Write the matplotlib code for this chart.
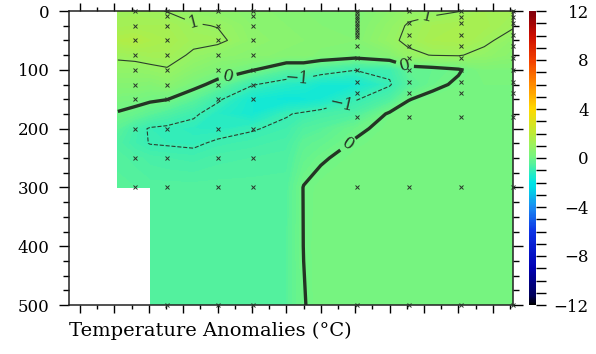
import numpy as np
import matplotlib
matplotlib.use('Agg')
import matplotlib.pyplot as plt
import matplotlib.colors as mcolors
from matplotlib.cm import ScalarMappable
from matplotlib.ticker import MultipleLocator

nan = np.nan

# grid columns (position along section, tick units) and depths (m)
grid_x = [2.2, 3.2, 4.07, 5.06, 6.6, 8.0, 10.0, 12.0, 13.0, 14.0, 16.0, 18.0, 19.1, 20.5, 22.0, 23.5, 25.17]
grid_depth = [0, 25, 50, 75, 100, 125, 150, 175, 200, 225, 250, 300, 400, 500]

# temperature anomaly (degC), one row per depth
anom_000 = [1.15, 1.15, 1.1, 0.98, 0.8, 0.7, 0.6, 0.5, 0.45, 0.4, 0.35, 0.65, 0.85, 0.85, 0.98, 1.3, 1.2]
anom_025 = [1.25, 1.3, 1.3, 1.3, 1.05, 0.98, 0.65, 0.55, 0.5, 0.45, 0.4, 0.8, 1.05, 1.3, 1.4, 1.35, 1.08]
anom_050 = [1.6, 1.7, 1.5, 1.4, 1.15, 1.12, 0.7, 0.6, 0.55, 0.5, 0.45, 0.9, 1.1, 1.4, 1.45, 1.15, 0.7]
anom_075 = [1.1, 1.15, 1.25, 1.25, 0.9, 0.7, 0.6, 0.5, 0.5, 0.4, 0.25, 0.5, 0.9, 1.02, 1.05, 0.8, 0.6]
anom_100 = [0.8, 0.8, 0.85, 0.95, 0.6, 0.35, 0.05, -0.45, -0.45, -0.7, -0.98, -0.9, -0.3, -0.2, -0.05, 0.3, 0.3]
anom_125 = [0.5, 0.5, 0.45, 0.6, 0.2, -0.2, -0.95, -1.3, -1.4, -1.6, -1.6, -1.05, -0.5, -0.12, 0.08, 0.2, 0.2]
anom_150 = [0.25, 0.2, 0.1, 0.02, -0.4, -0.9, -1.6, -1.8, -1.75, -1.6, -1.05, -0.6, -0.02, 0.15, 0.2, 0.2, 0.2]
anom_175 = [-0.05, -0.2, -0.4, -0.6, -0.9, -1.3, -1.6, -1.05, -0.9, -0.75, -0.6, 0.08, 0.2, 0.2, 0.2, 0.2, 0.2]
anom_200 = [-0.4, -0.8, -1.05, -1.1, -1.2, -1.25, -1.05, -0.85, -0.55, -0.45, -0.1, 0.15, 0.2, 0.2, 0.2, 0.2, 0.2]
anom_225 = [-0.6, -0.85, -1.02, -1.05, -1.1, -0.9, -0.8, -0.7, -0.35, -0.25, 0.05, 0.2, 0.2, 0.2, 0.2, 0.2, 0.2]
anom_250 = [-0.5, -0.6, -0.7, -0.75, -0.8, -0.7, -0.65, -0.6, -0.25, -0.05, 0.15, 0.2, 0.2, 0.2, 0.2, 0.2, 0.2]
anom_300 = [-0.4, -0.45, -0.5, -0.5, -0.5, -0.5, -0.5, -0.5, 0.02, 0.15, 0.2, 0.2, 0.2, 0.2, 0.2, 0.2, 0.2]
anom_400 = [nan, nan, -0.45, -0.45, -0.45, -0.45, -0.45, -0.45, 0.01, 0.2, 0.2, 0.2, 0.2, 0.2, 0.2, 0.2, 0.2]
anom_500 = [nan, nan, -0.45, -0.45, -0.45, -0.45, -0.45, -0.45, -0.03, 0.2, 0.2, 0.2, 0.2, 0.2, 0.2, 0.2, 0.2]

# CTD stations and their sample depths
station_x = [3.2, 5.06, 8.0, 10.06, 16.1, 19.13, 22.15, 25.17]
sample_depths = [
    [0, 25, 50, 75, 100, 125, 150, 200, 250, 300],
    [0, 8, 25, 50, 75, 100, 125, 150, 200, 250, 300, 500],
    [0, 25, 50, 75, 100, 125, 150, 200, 250, 300, 500],
    [0, 8, 25, 50, 75, 100, 125, 150, 200, 250, 300, 500],
    [0, 4, 8, 12, 16, 20, 24, 28, 32, 36, 40, 44, 60, 80, 100, 120, 140, 180, 300, 500],
    [0, 20, 40, 60, 80, 100, 120, 140, 180, 300, 500],
    [0, 10, 20, 40, 60, 80, 100, 120, 140, 180, 300, 500],
    [0, 10, 20, 40, 60, 80, 100, 120, 140, 180, 300, 500],
]

cbar_ticks = [12, 8, 4, 0, -4, -8, -12]

# contour label spots (x, depth)
label_spots = [(6.6, 20), (20.2, 12), (8.6, 114), (18.9, 90), (15.6, 228), (12.6, 114), (15.3, 173)]

# colour table, rainbow running into black at the cold end
cmap = mcolors.LinearSegmentedColormap.from_list('anom', [
    (0.0, (0, 0, 0)),
    (0.7 / 24, (0.0, 0.0, 0.35)),
    (3 / 24, (0.0, 0.0, 0.7)),
    (6 / 24, (0.05, 0.2, 0.9)),
    (8 / 24, (0.1, 0.55, 0.95)),
    (9.5 / 24, (0.0, 0.85, 0.9)),
    (10 / 24, (0.0, 0.9, 0.9)),
    (12 / 24, (0.44, 0.96, 0.52)),
    (13 / 24, (0.6, 0.95, 0.38)),
    (14 / 24, (0.74, 0.92, 0.22)),
    (16 / 24, (1.0, 0.85, 0.0)),
    (18 / 24, (1.0, 0.55, 0.0)),
    (20 / 24, (0.95, 0.25, 0.0)),
    (22 / 24, (0.8, 0.05, 0.0)),
    (1.0, (0.5, 0.0, 0.05)),
])
norm = mcolors.Normalize(vmin=-12, vmax=12)

Z = np.ma.masked_invalid(np.array([anom_000, anom_025, anom_050, anom_075, anom_100, anom_125, anom_150,
                                   anom_175, anom_200, anom_225, anom_250, anom_300, anom_400, anom_500]))
X, Y = np.meshgrid(grid_x, grid_depth)

plt.rcParams['font.family'] = 'DejaVu Serif'

fig = plt.figure(figsize=(5.96, 3.54), dpi=100)
ax = fig.add_axes([69 / 596, 49 / 354, 444 / 596, 294 / 354])
cax = fig.add_axes([529 / 596, 49 / 354, 7 / 596, 294 / 354])

ax.contourf(X, Y, Z, levels=np.linspace(-12, 12, 481), cmap=cmap, norm=norm,
            antialiased=False, corner_mask=False)

line_col = '#2c3f2c'
cs = ax.contour(X, Y, Z, levels=[-1, 0, 1], colors=[line_col, '#243424', line_col],
                linewidths=[0.8, 2.4, 0.8], linestyles=['dashed', 'solid', 'solid'], corner_mask=False)
ax.clabel(cs, fmt={-1: '\u22121', 0: '0', 1: '1'}, fontsize=12, inline=True, manual=label_spots)

for sx, deps in zip(station_x, sample_depths):
    ax.plot([sx] * len(deps), deps, linestyle='none', marker='x', markersize=2.6,
            markeredgewidth=0.7, color='#2a352a', clip_on=False, zorder=5)

ax.set_xlim(-0.64, 25.17)
ax.set_ylim(500, 0)
ax.xaxis.set_major_locator(MultipleLocator(2))
ax.xaxis.set_minor_locator(MultipleLocator(1))
ax.yaxis.set_major_locator(MultipleLocator(100))
ax.yaxis.set_minor_locator(MultipleLocator(25))
ax.tick_params(axis='x', which='both', direction='out', top=True, labelbottom=False)
ax.tick_params(axis='x', which='major', length=6, width=1)
ax.tick_params(axis='x', which='minor', length=3, width=1)
ax.tick_params(axis='y', which='both', direction='out', right=True, labelsize=12, pad=7)
ax.tick_params(axis='y', which='major', length=7, width=1)
ax.tick_params(axis='y', which='minor', length=4, width=1)
for s in ax.spines.values():
    s.set_linewidth(1.1)
    s.set_color('#222222')

ax.set_xlabel('Temperature Anomalies (\u00b0C)', loc='left', fontsize=14, labelpad=6)

sm = ScalarMappable(norm=norm, cmap=cmap)
cb = fig.colorbar(sm, cax=cax, ticks=cbar_ticks)
cb.outline.set_visible(False)
cax.yaxis.set_minor_locator(MultipleLocator(1))
cax.tick_params(which='both', direction='out', length=7, width=1, labelsize=12, pad=31)
for lab in cax.get_yticklabels():
    lab.set_horizontalalignment('right')

fig.savefig('out.png', dpi=100)
